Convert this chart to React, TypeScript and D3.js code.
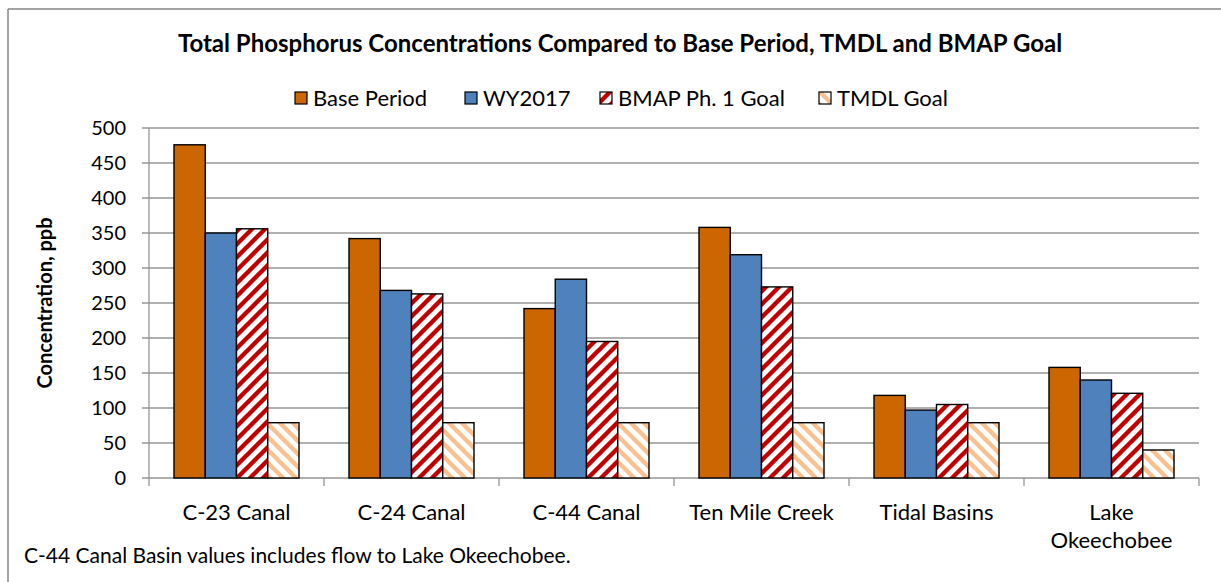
import React from 'react';
import * as d3 from 'd3';

const categories = ["C-23 Canal", "C-24 Canal", "C-44 Canal", "Ten Mile Creek", "Tidal Basins", "Lake Okeechobee"];
const seriesNames = ["Base Period", "WY2017", "BMAP Ph. 1 Goal", "TMDL Goal"];
const basePeriod = [476, 342, 242, 358, 118, 158];
const wy2017 = [350, 268, 284, 319, 97, 140];
const bmapGoal = [356, 263, 195, 273, 105, 121];
const tmdlGoal = [79, 79, 79, 79, 79, 40];
const yTicks = [0, 50, 100, 150, 200, 250, 300, 350, 400, 450, 500];
const title = "Total Phosphorus Concentrations Compared to Base Period, TMDL and BMAP Goal";
const yLabel = "Concentration, ppb";
const footnote = "C-44 Canal Basin values includes flow to Lake Okeechobee.";

const seriesValues = [basePeriod, wy2017, bmapGoal, tmdlGoal];
const fills = ["#CC6600", "#4F81BD", "url(#bmapPat)", "url(#tmdlPat)"];
const legendX = [295, 465, 600, 819];

const W = 1221, H = 582;
const left = 149, right = 1199, top = 128, bottom = 478;
const font = "Lato, 'Open Sans', sans-serif";

export default function App() {
  const x = d3.scaleBand<string>().domain(categories).range([left, right]).paddingInner(0).paddingOuter(0);
  const xi = d3.scaleBand<string>().domain(seriesNames).range([0, x.bandwidth()]).paddingInner(0).paddingOuter(0.8);
  const y = d3.scaleLinear().domain([0, 500]).range([bottom, top]);
  const boundaries = [...categories.map(c => x(c) as number), right];

  return (
    <svg width={W} height={H} style={{ position: 'absolute', left: 0, top: 0, background: '#fff' }} fontFamily={font}>
      <defs>
        <pattern id="bmapPat" patternUnits="userSpaceOnUse" width={13} height={13}>
          <rect width={13} height={13} fill="#fff" />
          <path d="M-3,3 L3,-3 M0,13 L13,0 M10,16 L16,10" stroke="#C00000" strokeWidth={4.4} />
        </pattern>
        <pattern id="tmdlPat" patternUnits="userSpaceOnUse" width={13} height={13}>
          <rect width={13} height={13} fill="#fff" />
          <path d="M-3,10 L3,16 M0,0 L13,13 M10,-3 L16,3" stroke="#FAC090" strokeWidth={4.4} />
        </pattern>
      </defs>
      <rect x={0} y={0} width={W} height={H} fill="#fff" />
      <line x1={8} y1={9} x2={W} y2={9} stroke="#868686" strokeWidth={1.5} />
      <line x1={8} y1={9} x2={8} y2={H} stroke="#868686" strokeWidth={1.5} />

      <text x={620} y={52} textAnchor="middle" fontWeight="bold" fontSize={24} fill="#000">{title}</text>

      {seriesNames.map((s, i) => (
        <g key={s}>
          <rect x={legendX[i]} y={92} width={12} height={12} fill={fills[i]} stroke="#000" strokeWidth={1.2} />
          <text x={legendX[i] + 18} y={106} fontSize={22} fill="#000">{s}</text>
        </g>
      ))}

      {yTicks.map(t => (
        <g key={t}>
          <line x1={left - 7} x2={right} y1={y(t)} y2={y(t)} stroke="#969696" strokeWidth={1.3} />
          <text x={126} y={y(t) + 7} textAnchor="end" fontSize={20} fill="#000">{t}</text>
        </g>
      ))}
      <line x1={left} x2={left} y1={top} y2={bottom} stroke="#969696" strokeWidth={1.3} />
      {boundaries.map((b, i) => (
        <line key={i} x1={b} x2={b} y1={bottom} y2={bottom + 8} stroke="#969696" strokeWidth={1.3} />
      ))}

      {categories.map((c, ci) => (
        <g key={c}>
          {seriesNames.map((s, si) => {
            const v = seriesValues[si][ci];
            const bx = (x(c) as number) + (xi(s) as number);
            return (
              <rect key={s} x={bx} y={y(v)} width={xi.bandwidth()} height={bottom - y(v)}
                fill={fills[si]} stroke="#000" strokeWidth={1.4} />
            );
          })}
        </g>
      ))}

      {categories.map(c => {
        const cx = (x(c) as number) + x.bandwidth() / 2;
        const lines = c === "Lake Okeechobee" ? ["Lake", "Okeechobee"] : [c];
        return (
          <text key={c} x={cx} y={520} textAnchor="middle" fontSize={22} fill="#000">
            {lines.map((l, i) => <tspan key={i} x={cx} dy={i === 0 ? 0 : 28}>{l}</tspan>)}
          </text>
        );
      })}

      <text transform={`translate(52,${(top + bottom) / 2}) rotate(-90)`} textAnchor="middle" fontWeight="bold" fontSize={20} fill="#000">{yLabel}</text>

      <text x={24} y={563} fontSize={21} fill="#000">{footnote}</text>
    </svg>
  );
}
